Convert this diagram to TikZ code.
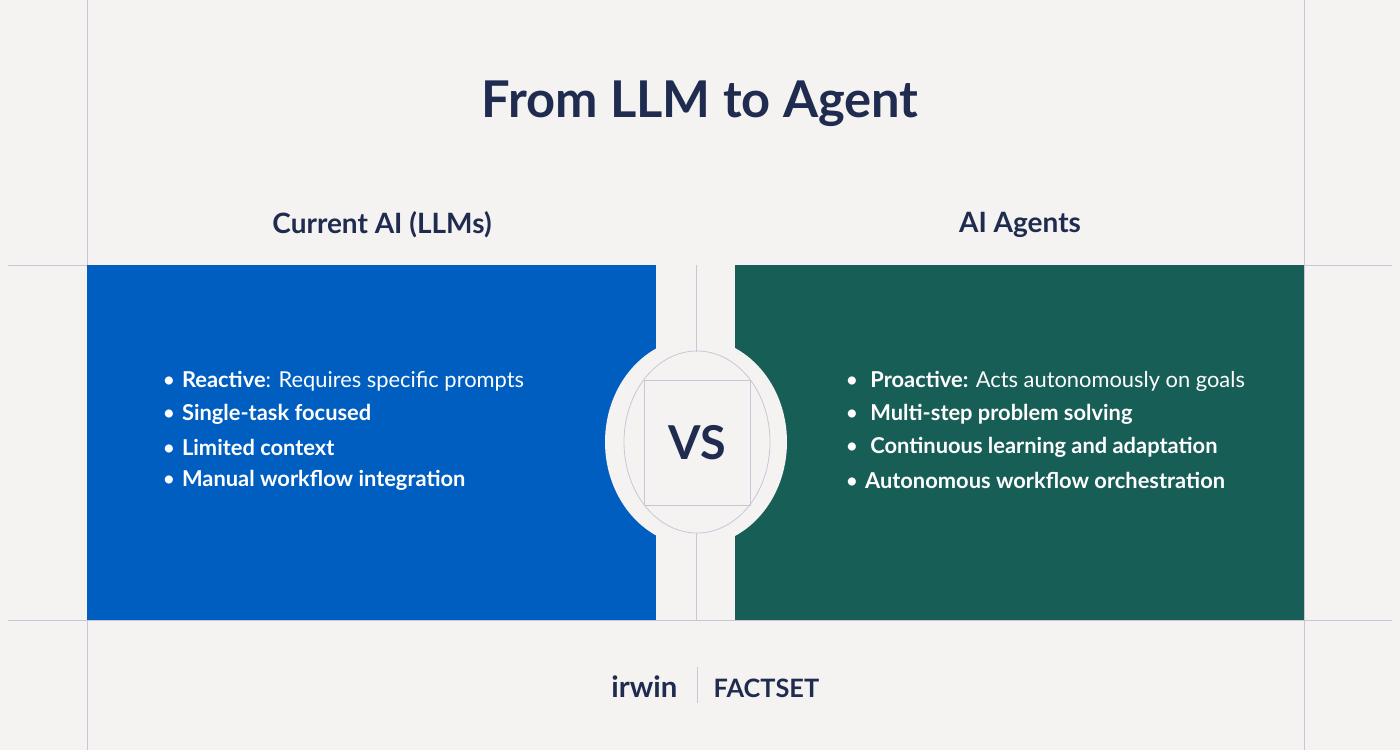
\documentclass[tikz,border=0pt]{standalone}
\usepackage{fontspec}
\setmainfont{Lato}
\definecolor{bg}{HTML}{F5F2F2}
\definecolor{blu}{HTML}{005EC0}
\definecolor{grn}{HTML}{175E57}
\definecolor{navy}{HTML}{1F2C4F}
\definecolor{gl}{HTML}{C9C6D6}
\begin{document}
\begin{tikzpicture}[x=0.75pt,y=-0.75pt,
  grid/.style={draw=gl,line width=0.6pt},
  bul/.style={anchor=west,text=white,font=\fontsize{16.4}{18}\selectfont},
  head/.style={text=navy,font=\fontsize{21}{24}\selectfont\bfseries}]
\fill[bg] (0,0) rectangle (1400,750);
\useasboundingbox (0,0) rectangle (1400,750);
\draw[grid] (87,0) -- (87,750);
\draw[grid] (1304,0) -- (1304,750);
\draw[grid] (8,265) -- (1392,265);
\draw[grid] (8,620) -- (1392,620);
\fill[blu] (87,265) rectangle (656,620);
\fill[grn] (735,265) rectangle (1304,620);
\fill[bg] (696,442) ellipse [x radius=91, y radius=104];
\fill[bg] (656,265) rectangle (735,620);
\draw[grid] (696,265) -- (696,352);
\draw[grid] (696,533) -- (696,620);
\draw[grid] (697,442) ellipse [x radius=73, y radius=91];
\draw[grid] (644,380) rectangle (750,505);
\node (vs) at (697,443) {\fontsize{35}{40}\selectfont\bfseries\color{navy}VS};
\node (title) at (700,104) {\fontsize{38}{42}\selectfont\bfseries\color{navy}From LLM to Agent};
\node[head] (h1) at (382,225) {Current AI (LLMs)};
\node[head] (h2) at (1020,225) {AI Agents};
\foreach \y/\t [count=\i] in {381/{\textbf{Reactive}: Requires specific prompts},414/{\textbf{Single-task focused}},447/{\textbf{Limited context}},480/{\textbf{Manual workflow integration}}}
  \node[bul] (l\i) at (158,\y) {\textbullet\hspace{5pt}\t};
\foreach \y/\t [count=\i] in {381/{\hspace{4pt}\textbf{Proactive:} Acts autonomously on goals},414/{\hspace{4pt}\textbf{Multi-step problem solving}},447/{\hspace{4pt}\textbf{Continuous learning and adaptation}},480/{\textbf{Autonomous workflow orchestration}}}
  \node[bul] (r\i) at (841,\y) {\textbullet\hspace{5pt}\t};
\node[anchor=east] (irwin) at (682,687) {\fontsize{22}{24}\selectfont\bfseries\color{navy}irwin};
\draw[gl] (697,667) -- (697,703);
\node[anchor=west] (fs) at (709,688) {\fontsize{19}{22}\selectfont\bfseries\color{navy}FACTSET};
\end{tikzpicture}
\end{document}
